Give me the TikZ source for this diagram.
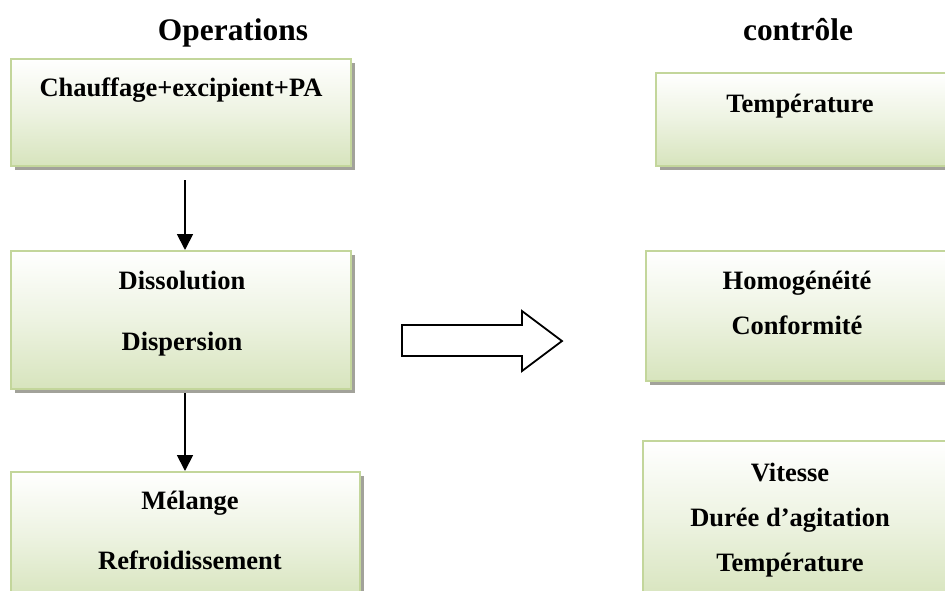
\documentclass[tikz,border=0pt]{standalone}
\usepackage{fontspec}
\setmainfont{Liberation Serif}
\usetikzlibrary{arrows.meta,shadows}
\definecolor{boxline}{HTML}{C3D69B}
\definecolor{boxbot}{HTML}{D7E4BD}
\definecolor{shadowgray}{HTML}{A2A29A}
\begin{document}
\begin{tikzpicture}[x=1pt,y=-1pt,
  box/.style={draw=boxline, line width=2.6pt, rectangle, inner sep=0pt,
    top color=white, bottom color=boxbot, middle color=boxbot!45!white,
    drop shadow={shadow xshift=4pt, shadow yshift=-4pt, fill=shadowgray, opacity=1}},
  lbl/.style={font=\bfseries\fontsize{26.5}{30}\selectfont, inner sep=0pt, anchor=base},
  ttl/.style={font=\bfseries\fontsize{31.4}{36}\selectfont, inner sep=0pt, anchor=base},
  flow/.style={line width=1.8pt, -{Triangle[width=16pt,length=16pt]}}]
\clip (0,0) rectangle (945,590);
\fill[white] (0,0) rectangle (945,590);
% titles
\node[ttl] (t1) at (233,40.7) {Operations};
\node[ttl] (t2) at (798,40.7) {contrôle};
% left boxes
\node[box, minimum width=340pt, minimum height=107pt] (b1) at (181,112.5) {};
\node[box, minimum width=340pt, minimum height=138pt] (b2) at (181,320) {};
\node[box, minimum width=349pt, minimum height=128pt] (b3) at (185.5,536) {};
% right boxes
\node[box, minimum width=294pt, minimum height=93pt] (b4) at (803,119.5) {};
\node[box, minimum width=304pt, minimum height=130pt] (b5) at (798,316) {};
\node[box, minimum width=307pt, minimum height=159pt] (b6) at (796.5,520.5) {};
% texts
\node[lbl] (x1) at (181,96) {Chauffage+excipient+PA};
\node[lbl] (x2) at (182,289) {Dissolution};
\node[lbl] (x3) at (182,350) {Dispersion};
\node[lbl] (x4) at (190,509) {Mélange};
\node[lbl] (x5) at (190,569) {Refroidissement};
\node[lbl] (x6) at (800,112) {Température};
\node[lbl] (x7) at (797,289) {Homogénéité};
\node[lbl] (x8) at (797,334) {Conformité};
\node[lbl] (x9) at (790,481) {Vitesse};
\node[lbl] (x10) at (790,526) {Durée d’agitation};
\node[lbl] (x11) at (790,571) {Température};
% connectors
\coordinate (a1s) at (185,180);
\coordinate (a1e) at (185,250);
\coordinate (a2s) at (185,393);
\coordinate (a2e) at (185,471);
\draw[flow] (a1s) -- (a1e);
\draw[flow] (a2s) -- (a2e);
% big hollow arrow
\draw[line width=1.8pt, line join=miter, fill=white]
  (402,325) -- (522,325) -- (522,311) -- (562,341) -- (522,371) -- (522,356) -- (402,356) -- cycle;
\end{tikzpicture}
\end{document}
